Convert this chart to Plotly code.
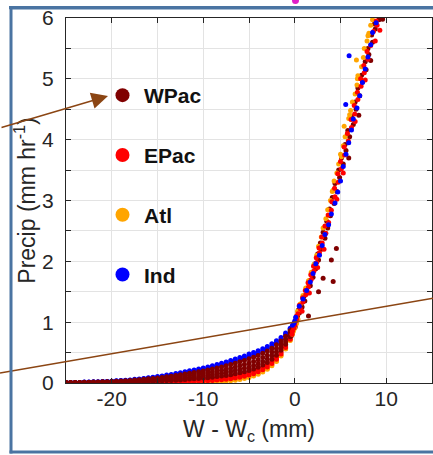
import plotly.graph_objects as go

# ---------------- data ----------------
basins = ["WPac", "EPac", "Atl", "Ind"]
colors = {"WPac": "#800000", "EPac": "#ff0000", "Atl": "#ffa500", "Ind": "#0000ff"}

# dry side (W - Wc < 0): shared x grid, several rows per basin
x_low = [-25, -24.5, -24, -23.5, -23, -22.5, -22, -21.5, -21, -20.5, -20, -19.5, -19, -18.5, -18,
         -17.5, -17, -16.5, -16, -15.5, -15, -14.5, -14, -13.5, -13, -12.5, -12, -11.5, -11, -10.5,
         -10, -9.5, -9, -8.5, -8, -7.5, -7, -6.5, -6, -5.5, -5, -4.5, -4, -3.5, -3, -2.5, -2, -1.5, -1, -0.5]

ind_low_a = [.010, .010, .010, .010, .015, .015, .020, .020, .025, .025, .030, .035, .040, .045, .050,
             .060, .065, .075, .085, .095, .105, .115, .130, .140, .155, .170, .185, .200, .215, .230,
             .245, .265, .285, .305, .325, .345, .370, .395, .420, .445, .475, .500, .530, .565, .600,
             .645, .695, .750, .820, .900]
ind_low_b = [.009, .009, .009, .009, .014, .014, .018, .018, .023, .023, .027, .032, .036, .041, .045,
             .054, .059, .068, .077, .086, .095, .104, .117, .126, .140, .153, .167, .181, .194, .208,
             .222, .240, .258, .276, .295, .314, .337, .360, .384, .408, .437, .462, .491, .527, .563,
             .609, .661, .720, .794, .880]
wpac_low_a = [.008, .008, .008, .008, .012, .012, .016, .016, .020, .020, .024, .028, .032, .036, .040,
              .048, .052, .060, .068, .076, .084, .092, .104, .112, .124, .136, .148, .161, .173, .186,
              .198, .214, .231, .248, .265, .282, .303, .325, .348, .371, .398, .423, .453, .488, .525,
              .573, .627, .689, .767, .860]
wpac_low_b = [.006, .006, .006, .006, .009, .009, .012, .012, .016, .016, .019, .022, .025, .028, .031,
              .037, .040, .047, .053, .059, .065, .071, .081, .087, .096, .105, .115, .126, .136, .146,
              .156, .169, .182, .196, .211, .225, .243, .263, .283, .304, .329, .354, .383, .419, .458,
              .508, .566, .634, .720, .823]
wpac_low_c = [.005, .005, .005, .005, .007, .007, .009, .009, .011, .011, .014, .016, .018, .020, .023,
              .027, .029, .034, .038, .043, .047, .052, .059, .063, .070, .077, .083, .093, .100, .108,
              .116, .126, .137, .148, .159, .172, .187, .204, .221, .241, .264, .288, .318, .354, .395,
              .446, .508, .582, .675, .789]
wpac_low_d = [.003, .003, .003, .003, .005, .005, .006, .006, .008, .008, .009, .011, .012, .014, .015,
              .018, .020, .023, .026, .029, .032, .035, .039, .042, .047, .051, .056, .064, .069, .075,
              .081, .088, .096, .105, .114, .125, .137, .151, .167, .185, .207, .231, .260, .296, .339,
              .392, .457, .537, .636, .759]
epac_low_a = [.002, .002, .002, .002, .003, .003, .004, .004, .005, .005, .006, .007, .008, .009, .010,
              .012, .013, .015, .017, .019, .021, .023, .026, .028, .031, .034, .037, .044, .048, .052,
              .057, .063, .069, .076, .084, .093, .104, .117, .131, .148, .169, .192, .221, .258, .302,
              .356, .423, .506, .610, .738]
epac_low_b = [.001, .001, .001, .001, .002, .002, .002, .002, .003, .003, .003, .004, .004, .005, .005,
              .006, .007, .008, .009, .010, .011, .012, .013, .014, .016, .017, .019, .025, .027, .030,
              .034, .037, .042, .048, .054, .062, .070, .082, .095, .111, .130, .154, .183, .219, .264,
              .320, .389, .476, .583, .718]
atl_low_a = [0, 0, 0, 0, .001, .001, .001, .001, .001, .001, .001, .001, .002, .002, .002,
             .002, .003, .003, .003, .004, .004, .005, .005, .006, .006, .007, .007, .013, .014, .017,
             .019, .022, .026, .030, .036, .043, .050, .061, .073, .089, .107, .130, .159, .196, .242,
             .298, .369, .457, .568, .706]
atl_low_b = [0, 0, 0, 0, 0, 0, 0, 0, 0, 0, 0, 0, 0, 0, 0,
             0, 0, 0, 0, 0, 0, 0, 0, 0, 0, 0, 0, .005, .006, .008,
             .010, .012, .015, .019, .024, .030, .037, .047, .059, .074, .092, .115, .144, .181, .227,
             .284, .355, .445, .557, .698]

# moist side (W - Wc > 0) and the crossover near zero: individual points
wpac_x_high = [-0.35, -0.25, -0.25, -0.1, 0.0, 0.05, 0.15, 0.25,
               0.1, 0.3, 0.5, 0.4, 0.8, 0.7, 1.1, 1.0, 1.4, 1.3, 1.7, 1.6, 2.0, 1.9, 2.3, 2.2, 2.6, 2.5,
               2.9, 2.8, 3.3, 3.1, 3.6, 3.5, 3.9, 3.8, 4.3, 4.1, 4.6, 4.4, 4.9, 4.8, 5.3, 5.1, 5.6, 5.5,
               6.0, 5.8, 6.4, 6.2, 6.7, 6.6, 7.1, 6.9, 7.4, 7.3, 7.8, 7.7, 8.1, 8.0, 8.5, 8.4, 8.8, 8.7,
               9.2, 9.6, 4.2, 4.55, 3.1, 4.0, 2.6, 1.5, 5.9, 7.0, 8.3]
wpac_y_high = [0.78, 0.82, 0.9, 0.95, 0.98, 0.92, 1.0, 1.08,
               1.03, 1.08, 1.15, 1.2, 1.25, 1.3, 1.35, 1.42, 1.48, 1.55, 1.6, 1.68, 1.74, 1.82, 1.88, 1.96, 2.02, 2.12,
               2.2, 2.3, 2.38, 2.48, 2.55, 2.66, 2.75, 2.86, 2.95, 3.05, 3.15, 3.28, 3.38, 3.5, 3.6, 3.7, 3.82, 3.92,
               4.05, 4.15, 4.25, 4.38, 4.5, 4.62, 4.72, 4.85, 4.95, 5.06, 5.15, 5.28, 5.4, 5.5, 5.6, 5.72, 5.82, 5.9,
               5.97, 5.98, 1.67, 2.21, 1.72, 2.02, 1.5, 1.1, 3.7, 4.4, 5.3]

epac_x_high = [-0.3, -0.25, -0.1, 0.0, 0.1, 0.2,
               0.0, 0.2, 0.35, 0.6, 0.5, 0.9, 0.85, 1.2, 1.15, 1.5, 1.45, 1.8, 1.75, 2.1, 2.05, 2.4, 2.35, 2.7,
               2.65, 3.0, 2.95, 3.4, 3.3, 3.7, 3.65, 4.0, 4.05, 4.4, 4.35, 4.75, 4.7, 5.1, 5.0, 5.45, 5.4, 5.85,
               5.75, 6.2, 6.15, 6.55, 6.5, 6.9, 6.85, 7.25, 7.2, 7.6, 7.55, 8.0, 7.9, 8.3, 8.8, 8.6, 9.0, 8.9,
               0.8, 1.6, 2.5, 3.2, 4.6, 5.3, 6.6, 7.7, 9.3]
epac_y_high = [0.8, 0.85, 0.9, 0.95, 1.02, 1.05,
               1.0, 1.1, 1.14, 1.22, 1.28, 1.33, 1.4, 1.45, 1.52, 1.58, 1.65, 1.7, 1.78, 1.84, 1.92, 1.98, 2.06, 2.14,
               2.22, 2.3, 2.4, 2.46, 2.58, 2.64, 2.76, 2.84, 2.98, 3.06, 3.2, 3.3, 3.44, 3.52, 3.64, 3.75, 3.88, 3.98,
               4.1, 4.2, 4.33, 4.42, 4.56, 4.66, 4.78, 4.88, 5.0, 5.1, 5.22, 5.32, 5.45, 5.55, 5.62, 5.78, 5.88, 5.95,
               1.18, 1.48, 1.9, 2.2, 3.02, 3.45, 4.3, 4.98, 5.8]

atl_x_high = [-0.25, -0.15, 0.0, 0.2, 0.35,
              0.1, 0.3, 0.6, 0.9, 1.2, 1.5, 1.8, 2.1, 2.4, 2.6, 2.9, 3.1, 3.4, 3.6, 3.9, 4.1, 4.3, 4.6,
              4.8, 5.0, 5.3, 5.5, 5.4, 5.9, 6.1, 6.3, 6.6, 6.8, 6.9, 7.3, 7.5, 7.6, 7.9, 8.1, 8.3, 8.5,
              8.0, 6.74, 6.85, 6.0, 5.1, 4.19]
atl_y_high = [0.8, 0.85, 0.9, 0.98, 1.05,
              1.05, 1.18, 1.3, 1.44, 1.56, 1.68, 1.82, 1.95, 2.1, 2.25, 2.4, 2.55, 2.7, 2.85, 3.0, 3.15, 3.32, 3.45,
              3.6, 3.76, 3.9, 4.05, 4.22, 4.35, 4.48, 4.62, 4.75, 4.9, 5.05, 5.2, 5.35, 5.5, 5.62, 5.75, 5.88, 5.97,
              5.71, 5.31, 5.0, 4.41, 3.72, 3.17]

ind_x_high = [-0.25, -0.1, 0.0,
              0.1, 0.5, 0.9, 1.3, 1.7, 2.0, 2.3, 2.7, 3.0, 3.3, 3.7, 4.0, 4.4, 4.7, 5.0, 5.3, 5.6, 5.9,
              6.2, 6.4, 6.8, 7.1, 7.4, 7.7, 8.0, 8.3, 8.5, 8.9, 5.94, 5.57]
ind_y_high = [0.95, 0.98, 1.02,
              1.08, 1.26, 1.38, 1.52, 1.66, 1.8, 1.96, 2.1, 2.26, 2.44, 2.6, 2.78, 2.96, 3.14, 3.32, 3.56, 3.76, 3.95,
              4.16, 4.34, 4.52, 4.72, 4.94, 5.16, 5.36, 5.56, 5.76, 5.92, 5.38, 4.58]

low_rows = {
    "Ind": [ind_low_a, ind_low_b],
    "Atl": [atl_low_a, atl_low_b],
    "EPac": [epac_low_a, epac_low_b],
    "WPac": [wpac_low_a, wpac_low_b, wpac_low_c, wpac_low_d],
}
high_pts = {
    "WPac": (wpac_x_high, wpac_y_high),
    "EPac": (epac_x_high, epac_y_high),
    "Atl": (atl_x_high, atl_y_high),
    "Ind": (ind_x_high, ind_y_high),
}

# reference line (annotation), in data units: y = b + m*x
ref_line_b, ref_line_m = 1.0, 0.026

x_range = [-25, 15]
y_range = [0, 6]
x_ticks = [-25, -20, -15, -10, -5, 0, 5, 10, 15]
x_ticktext = ["", "-20", "", "-10", "", "0", "", "10", ""]
y_ticks = [0, 0.5, 1, 1.5, 2, 2.5, 3, 3.5, 4, 4.5, 5, 5.5, 6]
y_ticktext = ["0", "", "1", "", "2", "", "3", "", "4", "", "5", "", "6"]

# ---------------- figure ----------------
FONT = "Liberation Sans, Arial, Helvetica, sans-serif"
W, H = 433, 455
ml, mr, mt, mb = 66, 1, 18, 72
pw, ph = W - ml - mr, H - mt - mb

fig = go.Figure()
MS = 5

for b in ["Ind", "Atl", "EPac", "WPac"]:
    xs, ys = [], []
    for row in low_rows[b]:
        xs += x_low
        ys += row
    fig.add_trace(go.Scatter(x=xs, y=ys, mode="markers", showlegend=False,
                             marker=dict(size=MS, color=colors[b], line=dict(width=0)),
                             hoverinfo="skip"))

for b in ["WPac", "Atl", "EPac", "Ind"]:
    xs, ys = high_pts[b]
    fig.add_trace(go.Scatter(x=xs, y=ys, mode="markers", showlegend=False,
                             marker=dict(size=MS, color=colors[b], line=dict(width=0)),
                             hoverinfo="skip"))

for i, b in enumerate(basins):
    fig.add_trace(go.Scatter(x=[None], y=[None], mode="markers", name=b, legendgroup=b,
                             marker=dict(size=14, color=colors[b])))


def to_paper_y(yv):
    return (yv - y_range[0]) / (y_range[1] - y_range[0])


def px_x(p):
    return (p - ml) / pw


def px_y(p):
    return (mt + ph - p) / ph


# reference line extended to figure edges
px_left = -ml / pw
px_right = (W - ml) / pw
xl = x_range[0] + px_left * (x_range[1] - x_range[0])
xr = x_range[0] + px_right * (x_range[1] - x_range[0])
fig.add_shape(type="line", xref="paper", yref="paper",
              x0=px_left, y0=to_paper_y(ref_line_b + ref_line_m * xl),
              x1=px_right, y1=to_paper_y(ref_line_b + ref_line_m * xr),
              line=dict(color="#8b4513", width=1.5))

# slide frame (left, top, bottom edges) as thin filled bars
FRAME = "#4a74a2"
for (a, b_, c, d) in [(9.5, 12.5, 6.5, 453.5), (9.5, 433, 6.5, 9.5), (9.5, 433, 450.5, 453.5)]:
    fig.add_shape(type="rect", xref="paper", yref="paper", layer="above",
                  x0=px_x(a), x1=px_x(b_), y0=px_y(d), y1=px_y(c),
                  line=dict(width=0), fillcolor=FRAME)
# magenta dot at the top edge
fig.add_shape(type="circle", xref="paper", yref="paper",
              x0=px_x(292), x1=px_x(299), y0=px_y(-3), y1=px_y(4),
              line=dict(width=0), fillcolor="#e020c8")

# arrow to legend
fig.add_annotation(xref="paper", yref="paper", x=px_x(108), y=px_y(96),
                   ax=-108, ay=32, axref="pixel", ayref="pixel", text="", showarrow=True,
                   arrowhead=2, arrowsize=2.2, arrowwidth=1.5, arrowcolor="#8b4513", standoff=0)

axis_common = dict(showgrid=True, gridcolor="#e3e3e3", gridwidth=1, zeroline=False,
                   showline=True, linecolor="#262626", linewidth=1, mirror="ticks",
                   ticks="inside", ticklen=5, tickcolor="#262626", automargin=False,
                   tickfont=dict(family=FONT, size=21, color="#262626"))

fig.update_layout(
    width=W, height=H, margin=dict(l=ml, r=mr, t=mt, b=mb, autoexpand=False),
    paper_bgcolor="white", plot_bgcolor="white",
    xaxis=dict(range=x_range, tickvals=x_ticks, ticktext=x_ticktext, ticklabelstandoff=-3,
               title=dict(text="W - W<sub>c</sub> (mm)", standoff=11,
                          font=dict(family=FONT, size=23, color="#262626")),
               **axis_common),
    yaxis=dict(range=y_range, tickvals=y_ticks, ticktext=y_ticktext, ticklabelstandoff=7,
               title=dict(text="Precip (mm hr<sup>-1</sup>)", standoff=0,
                          font=dict(family=FONT, size=23, color="#262626")),
               **axis_common),
    legend=dict(x=px_x(101), y=px_y(75), xanchor="left", yanchor="top",
                bgcolor="rgba(0,0,0,0)", borderwidth=0, tracegroupgap=29.5, traceorder="grouped",
                itemwidth=33,
                font=dict(family=FONT, size=21, color="#111111", weight="bold")),
    showlegend=True,
)

post = (
    "document.body.style.margin='0';"
    "var fb=document.createElement('div');"
    "fb.style.cssText='position:absolute;left:9px;top:6px;width:430px;height:3px;"
    "background:#4a74a2;z-index:1000;pointer-events:none';"
    "document.body.appendChild(fb);"
)
fig.write_html("out.html", config={"displayModeBar": False}, post_script=post)
